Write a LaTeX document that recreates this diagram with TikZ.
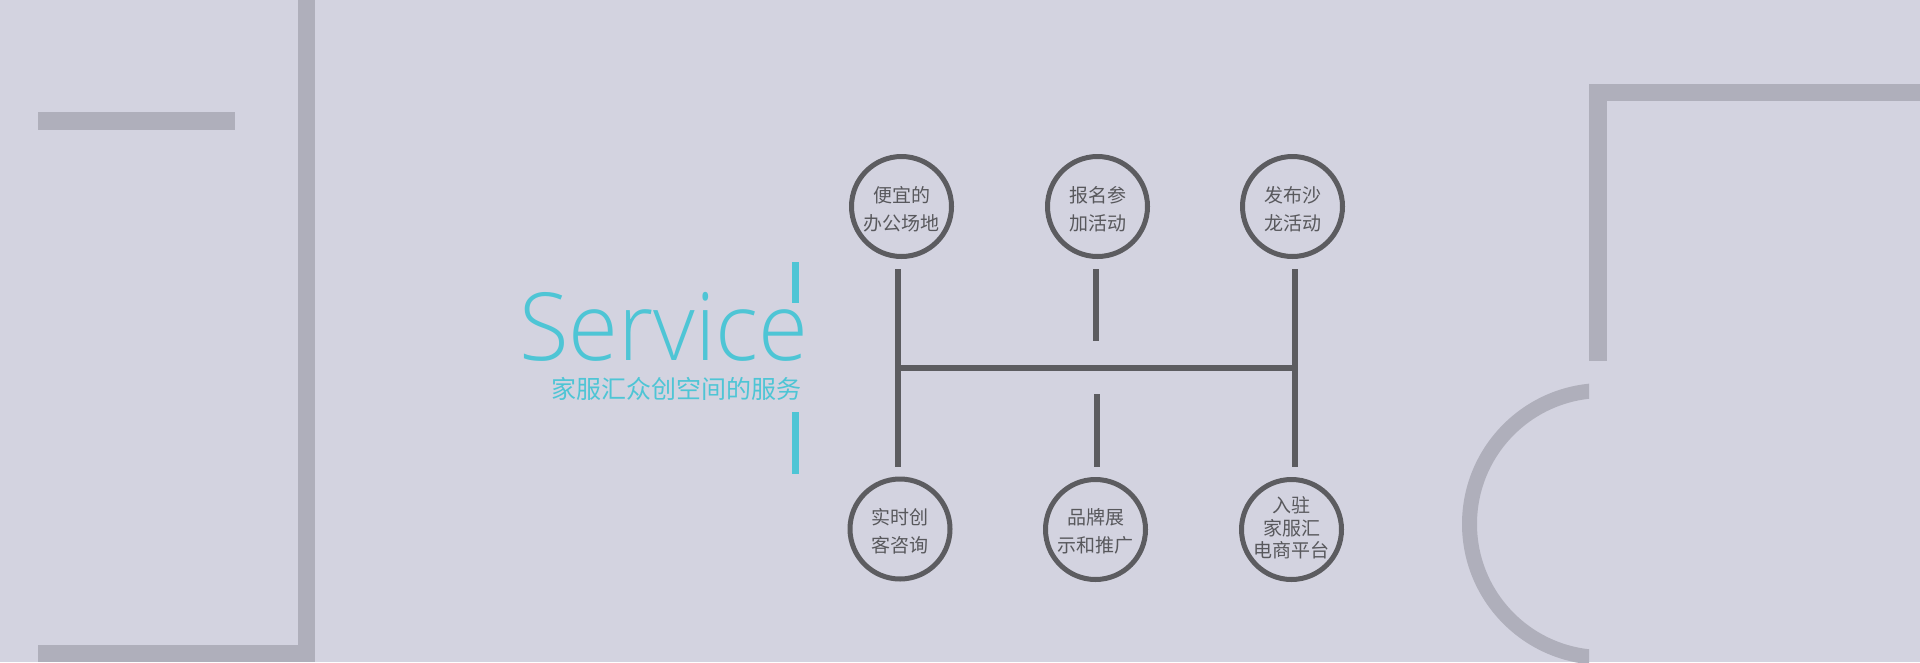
\documentclass[tikz,border=0pt]{standalone}
\usepackage{fontspec}
\newfontfamily\cjk{Noto Sans CJK SC}
\IfFontExistsTF{Open Sans Light}{\newfontfamily\svcfont{Open Sans Light}}{%
  \IfFontExistsTF{FiraSans-Light.otf}{\newfontfamily\svcfont{FiraSans-Light.otf}}{\newfontfamily\svcfont{Open Sans}}}
\definecolor{bg}{RGB}{211,211,224}
\definecolor{bar}{RGB}{175,175,187}
\definecolor{cyanc}{RGB}{78,197,213}
\definecolor{ringc}{RGB}{92,92,96}
\definecolor{txtc}{RGB}{88,88,92}
\tikzset{
  ring/.style={circle, draw=ringc, line width=5pt, minimum size=100pt, inner sep=0pt},
  ctext/.style={align=center, text=txtc, inner sep=0pt, font=\cjk\fontsize{19}{28}\selectfont},
  ctextiii/.style={align=center, text=txtc, inner sep=0pt, font=\cjk\fontsize{19}{22.5}\selectfont},
  bus/.style={draw=ringc, line width=6pt},
  decobar/.style={fill=bar},
  cyanbar/.style={fill=cyanc}
}
\begin{document}
\begin{tikzpicture}[x=1pt,y=-1pt]
\useasboundingbox (0,0) rectangle (1920,662);
\fill[bg] (0,0) rectangle (1920,662);
% left decorations
\fill[decobar] (298,0) rectangle (315,662);
\fill[decobar] (38,112) rectangle (235,130);
\fill[decobar] (38,645) rectangle (315,662);
% right decorations
\fill[decobar] (1589,84) rectangle (1920,101);
\fill[decobar] (1589,84) rectangle (1607,361);
\begin{scope}
  \clip (1400,300) rectangle (1589,700);
  \draw[bar, line width=15pt] (1603,524) circle[radius=133.5];
\end{scope}
% title
\node[anchor=base, text=cyanc, inner sep=0pt, text depth=0pt, font=\svcfont\fontsize{94}{94}\selectfont, xscale=0.965] (svc) at (664,360) {Service};
\node[text=cyanc, inner sep=0pt, font=\cjk\fontsize{25}{26}\selectfont] (sub) at (676.5,389) {家服汇众创空间的服务};
\fill[cyanbar] (792,262) rectangle (799,303);
\fill[cyanbar] (792,412) rectangle (799,474);
% rings
\node[ring] (c1) at (901.5,206.5) {};
\node[ring] (c2) at (1097.5,206.5) {};
\node[ring] (c3) at (1292.5,206.5) {};
\node[ring] (c4) at (900,529) {};
\node[ring] (c5) at (1095.5,529.5) {};
\node[ring] (c6) at (1291.5,529.5) {};
\node[ctext] (t1) at (901.5,209) {便宜的\\办公场地};
\node[ctext] (t2) at (1097.5,209) {报名参\\加活动};
\node[ctext] (t3) at (1292.5,209) {发布沙\\龙活动};
\node[ctext] (t4) at (900,531) {实时创\\客咨询};
\node[ctext] (t5) at (1095.5,531) {品牌展\\示和推广};
\node[ctextiii] (t6) at (1291.5,528) {入驻\\家服汇\\电商平台};
% bus lines
\coordinate (a1) at (898,269);
\coordinate (a4) at (898,467);
\coordinate (aj) at (898,368);
\coordinate (b1) at (1096,269);
\coordinate (b2) at (1096,341);
\coordinate (b3) at (1096.5,394);
\coordinate (b4) at (1096.5,467);
\coordinate (d1) at (1295,269);
\coordinate (d4) at (1295,467);
\coordinate (dj) at (1295,368);
\draw[bus] (a1) -- (a4);
\draw[bus] (d1) -- (d4);
\draw[bus] (aj) -- (dj);
\draw[bus] (b1) -- (b2);
\draw[bus] (b3) -- (b4);
\end{tikzpicture}
\end{document}
